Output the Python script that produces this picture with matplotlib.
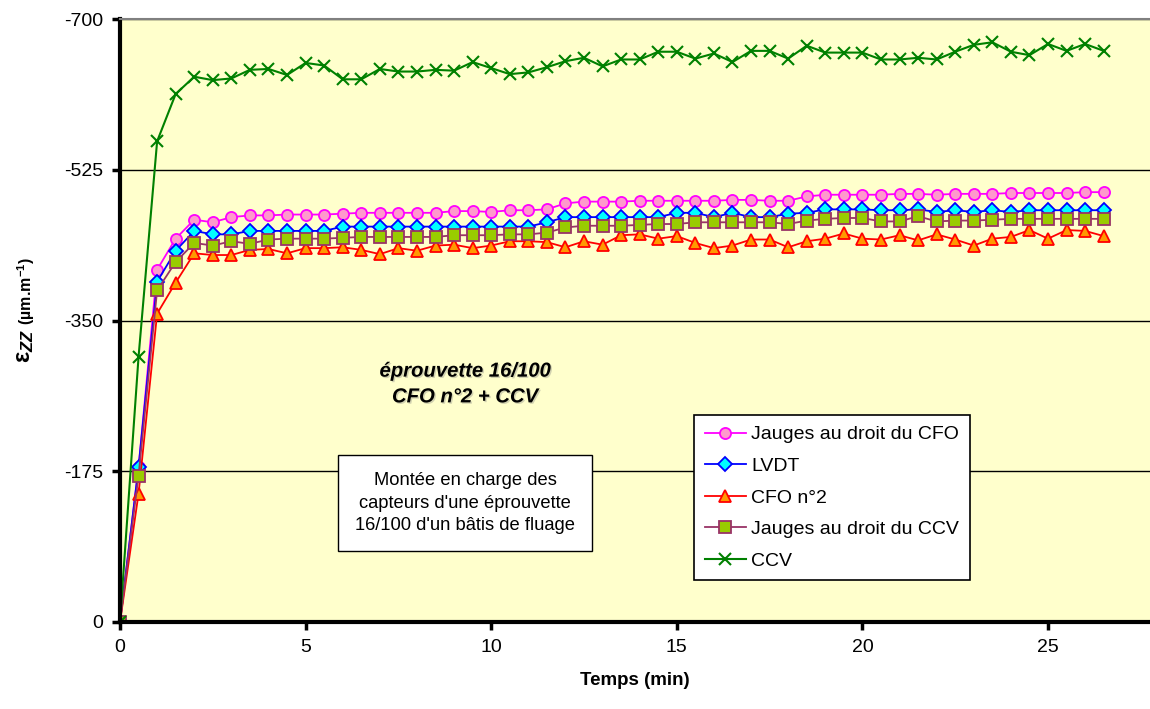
import matplotlib
matplotlib.use("Agg")
import matplotlib.pyplot as plt
import matplotlib.patheffects as pe

plt.rcParams['font.family'] = ['Liberation Sans', 'DejaVu Sans']
plt.rcParams['axes.unicode_minus'] = False
plt.rcParams['mathtext.fontset'] = 'custom'
plt.rcParams['mathtext.rm'] = 'Liberation Sans:bold'
plt.rcParams['mathtext.bf'] = 'Liberation Sans:bold'
plt.rcParams['mathtext.it'] = 'Liberation Sans:italic:bold'

# time (min): 0 to 26.5 every 0.5
temps = [i * 0.5 for i in range(54)]

jauges_cfo = [0, -180, -409, -445, -467, -464, -470, -472, -472, -473, -473, -473,
              -474, -475, -475, -475, -475, -475, -477, -477, -476, -478, -478, -479,
              -486, -488, -488, -488, -489, -489, -489, -489, -489, -490, -490, -489,
              -489, -494, -496, -496, -496, -496, -497, -497, -496, -497, -497, -497,
              -498, -498, -498, -498, -499, -499]
lvdt = [0, -180, -395, -431, -454, -450, -450, -454, -454, -454, -454, -454,
        -459, -459, -459, -459, -459, -459, -459, -459, -459, -459, -459, -464,
        -470, -470, -470, -470, -470, -470, -475, -475, -470, -475, -470, -470,
        -474, -475, -479, -479, -479, -478, -478, -479, -476, -478, -476, -478,
        -476, -478, -478, -478, -478, -478]
cfo_n2 = [0, -149, -358, -394, -428, -426, -426, -432, -433, -428, -434, -434,
          -435, -432, -427, -434, -431, -437, -438, -434, -437, -442, -442, -441,
          -435, -442, -438, -449, -450, -445, -448, -440, -434, -437, -444, -444,
          -435, -442, -445, -451, -445, -444, -449, -443, -450, -444, -437, -445,
          -447, -455, -445, -455, -454, -448]
jauges_ccv = [0, -170, -385, -418, -440, -437, -442, -439, -444, -445, -445, -445,
              -446, -447, -447, -447, -447, -447, -449, -449, -449, -450, -450, -452,
              -458, -460, -460, -460, -461, -462, -462, -464, -464, -464, -464, -464,
              -462, -466, -468, -469, -469, -465, -465, -471, -465, -466, -466, -467,
              -468, -468, -468, -468, -468, -468]
ccv = [0, -308, -558, -613, -633, -629, -631, -641, -642, -635, -649, -646,
       -630, -630, -642, -639, -639, -641, -640, -650, -643, -636, -638, -644,
       -651, -655, -645, -653, -653, -662, -662, -654, -660, -650, -663, -663,
       -654, -669, -661, -661, -661, -653, -653, -655, -653, -662, -670, -673,
       -662, -658, -671, -663, -671, -663]

series_names = ['Jauges au droit du CFO', 'LVDT', 'CFO n°2',
                'Jauges au droit du CCV', 'CCV']
x_ticks = [0, 5, 10, 15, 20, 25]
y_ticks = [0, -175, -350, -525, -700]

W, H = 1150, 709
fig = plt.figure(figsize=(W / 100, H / 100), dpi=100)
ax = fig.add_axes([120 / W, (H - 622) / H, (W - 120) / W, (622 - 19) / H])
ax.set_facecolor('#FFFFCC')

ms = 8
ax.plot(temps, jauges_cfo, color='#FF00FF', lw=1.3, marker='o', ms=ms,
        mfc='#FF99CC', mec='#FF00FF', mew=1.3, label=series_names[0])
ax.plot(temps, lvdt, color='#0000FF', lw=1.3, marker='D', ms=ms - 0.8,
        mfc='#00FFFF', mec='#0000FF', mew=1.3, label=series_names[1])
ax.plot(temps, cfo_n2, color='#FF0000', lw=1.3, marker='^', ms=ms,
        mfc='#FF9900', mec='#FF0000', mew=1.3, label=series_names[2])
ax.plot(temps, jauges_ccv, color='#993366', lw=1.3, marker='s', ms=ms,
        mfc='#99CC00', mec='#993366', mew=1.3, label=series_names[3])
ax.plot(temps, ccv, color='#008000', lw=1.5, marker='x', ms=ms + 1,
        mfc='#008000', mec='#008000', mew=1.5, label=series_names[4])

ax.set_xlim(0, (W - 120) / ((1048 - 120) / 25))
ax.set_ylim(0, -700)
ax.set_xticks(x_ticks)
ax.set_yticks(y_ticks)
ax.set_yticklabels([str(v) for v in y_ticks])
ax.yaxis.grid(True, color='black', lw=1)
ax.set_axisbelow(True)

for s in ['left', 'bottom']:
    ax.spines[s].set_linewidth(3)
    ax.spines[s].set_color('black')
ax.spines['top'].set_color('#808080')
ax.spines['top'].set_linewidth(1.5)
ax.spines['right'].set_visible(False)
ax.tick_params(axis='both', direction='out', length=6, width=2.5,
               labelsize=14, pad=6, color='black')
for lab in ax.get_xticklabels() + ax.get_yticklabels():
    lab.set_clip_on(False)

ax.set_xlabel('Temps (min)', fontsize=13.5, fontweight='bold', labelpad=12)

# y label in two parts
fig.text(25 / W, (H - 329) / H, 'ε$_{ZZ}$', rotation=90, ha='center', va='top',
         fontsize=17, fontweight='bold')
fig.text(26 / W, (H - 329) / H, ' (µm.m$^{-1}$)', rotation=90, ha='center',
         va='bottom', fontsize=11.5, fontweight='bold')

fig.text(465 / W, (H - 384) / H, 'éprouvette 16/100\nCFO n°2 + CCV',
         ha='center', va='center', fontsize=14.6, fontweight='bold',
         style='italic', linespacing=1.45,
         path_effects=[pe.withSimplePatchShadow(offset=(1, -1), alpha=0.35,
                                                shadow_rgbFace='gray')])

fig.text(465 / W, (H - 503) / H,
         "Montée en charge des\ncapteurs d'une éprouvette\n16/100 d'un bâtis de fluage",
         ha='center', va='center', fontsize=13.2, linespacing=1.4,
         bbox=dict(boxstyle='square,pad=0.95', fc='white', ec='black', lw=1))

leg = ax.legend(loc='upper left', bbox_to_anchor=(694 / W, (H - 415) / H),
                bbox_transform=fig.transFigure, fontsize=14, frameon=True,
                fancybox=False, framealpha=1, edgecolor='black',
                handlelength=2.1, handletextpad=0.3, labelspacing=0.72,
                borderpad=0.55, borderaxespad=0)
leg.get_frame().set_linewidth(1.2)

fig.savefig('out.png', dpi=100)
